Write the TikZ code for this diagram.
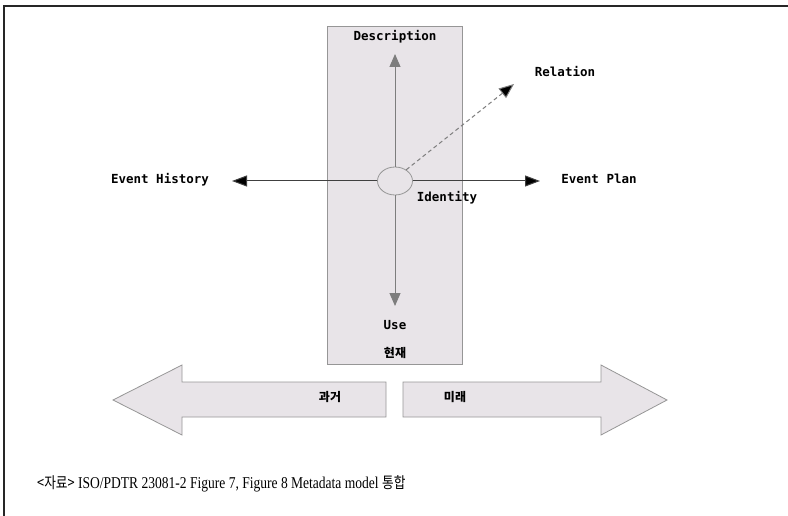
\documentclass[tikz,border=0pt]{standalone}
\usepackage{fontspec}
\setmainfont{Liberation Serif}
\newfontfamily\labfont{DejaVu Sans Mono}
\newfontfamily\krfont{Noto Sans CJK KR}
\usetikzlibrary{arrows.meta,shapes.geometric}
\definecolor{boxfill}{RGB}{232,228,232}
\definecolor{boxline}{RGB}{150,150,150}
\definecolor{axisgray}{RGB}{125,125,125}
\tikzset{
  lab/.style={font=\labfont\bfseries\fontsize{12.5}{14}\selectfont, inner sep=0pt},
  krlab/.style={font=\krfont\bfseries\fontsize{12}{14}\selectfont, inner sep=0pt},
  panel/.style={draw=boxline, fill=boxfill, line width=0.8pt},
  grayarrow/.style={draw=axisgray, line width=1pt, -{Triangle[length=13pt,width=11pt,fill=axisgray]}},
  blackarrow/.style={draw=black!75, line width=1pt, -{Triangle[length=15pt,width=11pt,fill=black]}},
  dasharrow/.style={draw=axisgray, line width=1pt, dash pattern=on 4pt off 3pt, -{Triangle[length=15pt,width=12pt,fill=black]}},
}
\begin{document}
\begin{tikzpicture}[x=1pt,y=-1pt]
\useasboundingbox (0,0) rectangle (788,516);
% frame
\draw[line width=1.6pt, black!85] (4,516) -- (4,6) -- (788,6);
% vertical panel
\node[panel, minimum width=135pt, minimum height=338pt, inner sep=0pt] (panel) at (394.5,195) {};
% big arrows
\draw[panel] (386,382) -- (182,382) -- (182,365) -- (113,400) -- (182,435) -- (182,417) -- (386,417) -- cycle;
\draw[panel] (403,382) -- (601,382) -- (601,365) -- (667,400) -- (601,435) -- (601,417) -- (403,417) -- cycle;
% identity circle
\node[panel, ellipse, minimum width=35pt, minimum height=28pt, inner sep=0pt] (id) at (395,181) {};
% labels
\node[lab] (desc) at (395,37) {Description};
\node[lab] (rel) at (565,72) {Relation};
\node[lab] (hist) at (160,180) {Event History};
\node[lab] (plan) at (599,179) {Event Plan};
\node[lab] (idt) at (447,198) {Identity};
\node[lab] (use) at (395,325) {Use};
\node[krlab] (now) at (395,353) {현재};
\node[krlab] (past) at (330,397) {과거};
\node[krlab] (fut) at (455,397) {미래};
% connector ends
\coordinate (uptip) at (395,54);
\coordinate (downtip) at (395,306);
\coordinate (lefttip) at (232,181);
\coordinate (righttip) at (540,181);
\coordinate (reltip) at (514,84);
% connectors
\draw[grayarrow] (id.north) -- (uptip);
\draw[grayarrow] (id.south) -- (downtip);
\draw[blackarrow] (id.west) -- (lefttip);
\draw[blackarrow] (id.east) -- (righttip);
\draw[dasharrow] (id.45) -- (reltip);
% caption
\node[anchor=west, inner sep=0pt] (cap) at (37,484) {\fontsize{16.5}{19}\selectfont\scalebox{0.82}[1]{{\krfont\fontsize{15.5}{19}\selectfont <자료>} ISO/PDTR 23081-2 Figure 7, Figure 8 Metadata model {\krfont\fontsize{15.5}{19}\selectfont 통합}}};
\end{tikzpicture}
\end{document}
